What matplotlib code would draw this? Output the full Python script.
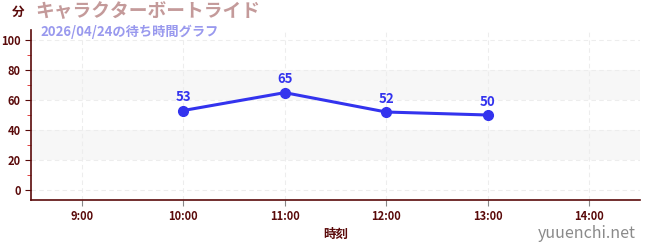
import matplotlib
matplotlib.use("Agg")
import matplotlib.pyplot as plt
from matplotlib.ticker import MultipleLocator

plt.rcParams['font.family'] = ['Noto Sans CJK JP', 'DejaVu Sans']

hours = [10, 11, 12, 13]
waits = [53, 65, 52, 50]
xticks = [9, 10, 11, 12, 13, 14]
xlabels = ["9:00", "10:00", "11:00", "12:00", "13:00", "14:00"]
yticks = [0, 20, 40, 60, 80, 100]

title = "キャラクターボートライド"
subtitle = "2026/04/24の待ち時間グラフ"

axc = "#5a0a0a"
fig = plt.figure(figsize=(6.5, 2.5), dpi=100)
ax = fig.add_axes([31/650, 50/250, 609/650, 170/250])
ax.set_xlim(8.5, 14.5)
ax.set_ylim(-7, 107)

for lo, hi in [(20, 40), (60, 80)]:
    ax.axhspan(lo, hi, color="#f7f7f7", zorder=0, lw=0)

ax.grid(True, which="major", color="#ededed", linestyle=(0, (4, 3)), lw=0.8)
ax.set_axisbelow(True)

ax.plot(hours, waits, color="#3333ee", lw=2.2, marker="o", ms=7, zorder=3)
for h, w in zip(hours, waits):
    ax.annotate(str(w), (h, w), xytext=(0, 4.5), textcoords="offset points",
                ha="center", va="bottom", color="#3333ee", fontsize=9.5, fontweight="bold")

ax.set_xticks(xticks)
ax.set_xticklabels(xlabels)
ax.set_yticks(yticks)
ax.yaxis.set_minor_locator(MultipleLocator(10))
ax.tick_params(axis="y", which="minor", length=3, color="#dd2222")
ax.tick_params(axis="both", which="major", length=4, color=axc, labelcolor=axc, labelsize=8)
ax.tick_params(axis="x", which="major", color="#888888")
for t in ax.get_xticklabels() + ax.get_yticklabels():
    t.set_fontweight("bold")

for s in ["top", "right"]:
    ax.spines[s].set_visible(False)
for s in ["left", "bottom"]:
    ax.spines[s].set_color(axc)
    ax.spines[s].set_linewidth(1.2)

ax.set_xlabel("時刻", color=axc, fontsize=9, fontweight="bold", labelpad=3)

fig.text(12/650, 1 - 12/250, "分", color=axc, fontsize=9, fontweight="bold", ha="left", va="center")
fig.text(35/650, 1 - 12/250, title, color="#c49a9a", fontsize=13.5, fontweight="bold", ha="left", va="center")
fig.text(40/650, 1 - 32/250, subtitle, color="#9999ee", fontsize=9.5, fontweight="bold", ha="left", va="center")
fig.text(636/650, 1 - 234/250, "yuuenchi.net", color="#8a8a8a", fontsize=11.5, ha="right", va="center")

fig.savefig("out.png", dpi=100)
